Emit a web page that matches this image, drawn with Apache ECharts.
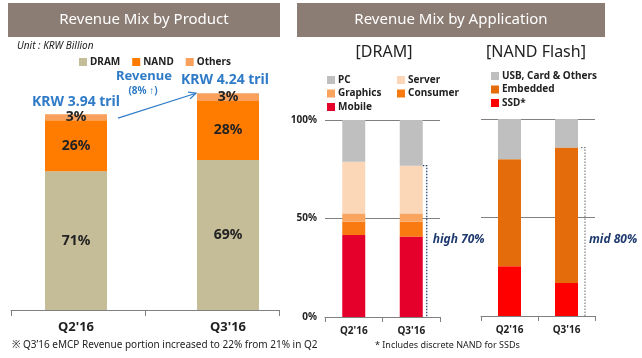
<!DOCTYPE html>
<html><head><meta charset="utf-8">
<script src="https://cdn.jsdelivr.net/npm/echarts@6/dist/echarts.min.js"></script>
<style>html,body{margin:0;padding:0;background:#fff}#c{width:642px;height:358px}</style>
</head><body><div id="c"></div>
<script>
// ---- data ----
const categories = ["Q2'16", "Q3'16"];
// Revenue Mix by Product (KRW tril)
const dramRevenue = [2.72, 2.94];
const nandRevenue = [1.00, 1.16];
const othersRevenue = [0.12, 0.15];
const dramShareLabels = ['71%', '69%'];
const nandShareLabels = ['26%', '28%'];
const othersShareLabels = ['3%', '3%'];
const revenueTotalLabels = ['KRW 3.94 tril', 'KRW 4.24 tril'];
const growthLabel = ['Revenue', '(8% \u2191)'];
// DRAM by application (%)
const mobile = [41.6, 40.8];
const consumer = [6.8, 7.6];
const graphicsApp = [4.2, 4.2];
const server = [26.2, 24.2];
const pc = [21.2, 23.2];
// NAND by application (%)
const ssd = [25.3, 16.8];
const embedded = [54.3, 68.7];
const usbCardOthers = [20.4, 14.5];
const percentTicks = [0, 50, 100];
const dramBracketLabel = 'high 70%';
const nandBracketLabel = 'mid 80%';

const FONT = 'Noto Sans';
const chart = echarts.init(document.getElementById('c'), null, {renderer: 'canvas'});

function lbl(arr) {
  return {show: true, position: 'inside', fontFamily: FONT, fontWeight: 'bold', fontSize: 14, color: '#222',
    formatter: p => arr[p.dataIndex]};
}
const pctAxisY = (idx, showLabels) => ({
  gridIndex: idx, type: 'value', min: 0, max: 100, interval: 50,
  axisLine: {show: false}, axisTick: {show: false},
  axisLabel: {show: showLabels, fontFamily: FONT, fontWeight: 'bold', fontSize: 10, color: '#222', margin: 8,
    formatter: v => percentTicks.includes(v) ? v + '%' : ''},
  splitLine: {show: true, lineStyle: {color: '#808080', width: 1}}
});
const catAxis = (idx, fs, margin) => ({
  gridIndex: idx, type: 'category', data: categories,
  axisLine: {show: true, lineStyle: {color: '#808080'}},
  axisTick: {show: true, length: 5, lineStyle: {color: '#808080'}},
  axisLabel: {fontFamily: FONT, fontWeight: 'bold', fontSize: fs, color: '#222', margin: margin}
});

const option = {
  animation: false,
  grid: [
    {left: -2, width: 306, top: 55, height: 255},
    {left: 11, width: 268, top: 55, height: 255},
    {left: 325, width: 115, top: 120, height: 197},
    {left: 481, width: 114, top: 119, height: 197}
  ],
  xAxis: [
    {gridIndex: 0, type: 'category', data: categories, axisLine: {show: false}, axisTick: {show: false},
     axisLabel: {fontFamily: FONT, fontWeight: 'bold', fontSize: 13, color: '#222', margin: 11}},
    {gridIndex: 1, type: 'category', data: categories, axisLine: {show: true, lineStyle: {color: '#808080'}},
     axisTick: {show: true, length: 6, lineStyle: {color: '#808080'}}, axisLabel: {show: false}},
    catAxis(2, 10, 9),
    catAxis(3, 10, 9)
  ],
  yAxis: [
    {gridIndex: 0, type: 'value', min: 0, max: 5, show: false},
    {gridIndex: 1, type: 'value', min: 0, max: 5, show: false},
    pctAxisY(2, true),
    pctAxisY(3, false)
  ],
  legend: [
    {data: ['DRAM', 'NAND', 'Others'], left: 74, top: 52, icon: 'rect', itemWidth: 8, itemHeight: 8, itemGap: 12,
     textStyle: {fontFamily: FONT, fontWeight: 'bold', fontSize: 10, color: '#222', padding: [0, 0, 0, -2]}},
    {data: ['PC', 'Graphics', 'Mobile'], orient: 'vertical', left: 322, top: 70, icon: 'rect', itemWidth: 8, itemHeight: 8, itemGap: 3.5,
     textStyle: {fontFamily: FONT, fontWeight: 'bold', fontSize: 10, color: '#222', padding: [0, 0, 0, -2]}},
    {data: ['Server', 'Consumer'], orient: 'vertical', left: 392, top: 70, icon: 'rect', itemWidth: 8, itemHeight: 8, itemGap: 3.5,
     textStyle: {fontFamily: FONT, fontWeight: 'bold', fontSize: 10, color: '#222', padding: [0, 0, 0, -2]}},
    {data: ['USB, Card & Others', 'Embedded', 'SSD*'], orient: 'vertical', left: 486, top: 66, icon: 'rect', itemWidth: 8, itemHeight: 8, itemGap: 3.5,
     textStyle: {fontFamily: FONT, fontWeight: 'bold', fontSize: 10, color: '#222', padding: [0, 0, 0, -2]}}
  ],
  series: [
    {name: 'DRAM', type: 'bar', xAxisIndex: 0, yAxisIndex: 0, stack: 'p', barWidth: 62, data: dramRevenue,
     itemStyle: {color: '#C5BD98'}, label: lbl(dramShareLabels)},
    {name: 'NAND', type: 'bar', xAxisIndex: 0, yAxisIndex: 0, stack: 'p', barWidth: 62, data: nandRevenue,
     itemStyle: {color: '#FF7C00'}, label: lbl(nandShareLabels)},
    {name: 'Others', type: 'bar', xAxisIndex: 0, yAxisIndex: 0, stack: 'p', barWidth: 62, data: othersRevenue,
     itemStyle: {color: '#F9A15C'}, label: lbl(othersShareLabels)},

    {name: 'Mobile', type: 'bar', xAxisIndex: 2, yAxisIndex: 2, stack: 'd', barWidth: 23, data: mobile, itemStyle: {color: '#E4002B'}},
    {name: 'Consumer', type: 'bar', xAxisIndex: 2, yAxisIndex: 2, stack: 'd', barWidth: 23, data: consumer, itemStyle: {color: '#F97A10'}},
    {name: 'Graphics', type: 'bar', xAxisIndex: 2, yAxisIndex: 2, stack: 'd', barWidth: 23, data: graphicsApp, itemStyle: {color: '#F9A55F'}},
    {name: 'Server', type: 'bar', xAxisIndex: 2, yAxisIndex: 2, stack: 'd', barWidth: 23, data: server, itemStyle: {color: '#FBD6B7'}},
    {name: 'PC', type: 'bar', xAxisIndex: 2, yAxisIndex: 2, stack: 'd', barWidth: 23, data: pc, itemStyle: {color: '#BFBFBF'}},

    {name: 'SSD*', type: 'bar', xAxisIndex: 3, yAxisIndex: 3, stack: 'n', barWidth: 23, data: ssd, itemStyle: {color: '#FF0000'}},
    {name: 'Embedded', type: 'bar', xAxisIndex: 3, yAxisIndex: 3, stack: 'n', barWidth: 23, data: embedded, itemStyle: {color: '#E46C0A'}},
    {name: 'USB, Card & Others', type: 'bar', xAxisIndex: 3, yAxisIndex: 3, stack: 'n', barWidth: 23, data: usbCardOthers, itemStyle: {color: '#BFBFBF'}}
  ]
};
chart.setOption(option);

// ---- annotations positioned through the axes ----
const px = (g, x, y) => chart.convertToPixel({xAxisIndex: g, yAxisIndex: g}, [x, y]);
const tot = i => dramRevenue[i] + nandRevenue[i] + othersRevenue[i];
const q2Top = px(0, 0, tot(0));
const q3Top = px(0, 1, tot(1));
const half = 31;
const a0 = [q2Top[0] + half + 11, q2Top[1] + 4];
const a1 = [q3Top[0] - half - 1, q3Top[1]];
const ang = Math.atan2(a1[1] - a0[1], a1[0] - a0[0]);
const ah = 8, aw = 0.45;
const head = [
  [a1[0] - ah * Math.cos(ang - aw), a1[1] - ah * Math.sin(ang - aw)],
  a1,
  [a1[0] - ah * Math.cos(ang + aw), a1[1] - ah * Math.sin(ang + aw)]
];
const blue = '#2F7BC8';

const dTop = px(2, 1, mobile[1] + consumer[1] + graphicsApp[1] + server[1]);
const dBot = px(2, 1, 0);
const dx = dTop[0] + 11.5 + 4;
const nTop = px(3, 1, ssd[1] + embedded[1]);
const nBot = px(3, 1, 0);
const nx = nTop[0] + 11.5 + 7;

const titleBar = (x, w, text) => ({
  type: 'group', left: x, top: 3, children: [
    {type: 'rect', shape: {x: 0, y: 0, width: w, height: 34}, style: {fill: '#8C7D74'}},
    {type: 'text', x: w / 2, y: 17, style: {text: text, fill: '#fff', font: '15px "' + FONT + '"', textAlign: 'center', textVerticalAlign: 'middle'}}
  ]
});

chart.setOption({
  graphic: [
    titleBar(8, 272, 'Revenue Mix by Product'),
    titleBar(297, 308, 'Revenue Mix by Application'),
    {type: 'text', left: 17, top: 41, style: {text: 'Unit : KRW Billion', fill: '#222', font: 'italic 10px "' + FONT + '"'}},
    {type: 'text', x: 384, y: 52, style: {text: '[DRAM]', fill: '#222', font: '16px "' + FONT + '"', textAlign: 'center', textVerticalAlign: 'middle'}},
    {type: 'text', x: 536, y: 52, style: {text: '[NAND Flash]', fill: '#222', font: '16px "' + FONT + '"', textAlign: 'center', textVerticalAlign: 'middle'}},
    {type: 'text', x: q2Top[0], y: q2Top[1] - 12, style: {text: revenueTotalLabels[0], fill: blue, font: 'bold 14px "' + FONT + '"', textAlign: 'center', textVerticalAlign: 'middle'}},
    {type: 'text', x: q3Top[0] - 3, y: q3Top[1] - 13, style: {text: revenueTotalLabels[1], fill: blue, font: 'bold 14px "' + FONT + '"', textAlign: 'center', textVerticalAlign: 'middle'}},
    {type: 'text', x: 144, y: 76, style: {text: growthLabel[0], fill: blue, font: 'bold 13px "' + FONT + '"', textAlign: 'center', textVerticalAlign: 'middle'}},
    {type: 'text', x: 143, y: 91, style: {text: growthLabel[1], fill: blue, font: 'bold 10px "' + FONT + '"', textAlign: 'center', textVerticalAlign: 'middle'}},
    {type: 'line', shape: {x1: a0[0], y1: a0[1], x2: a1[0], y2: a1[1]}, style: {stroke: blue, lineWidth: 1.2}},
    {type: 'polyline', shape: {points: head}, style: {stroke: blue, lineWidth: 1.2, fill: null}},
    {type: 'polyline', shape: {points: [[dx - 4, dTop[1]], [dx, dTop[1]], [dx, dBot[1]]]}, style: {stroke: '#1F3A6E', lineWidth: 1.2, lineDash: [1.5, 1.5], fill: null}},
    {type: 'text', x: dx + 6, y: 240, style: {text: dramBracketLabel, fill: '#1F3A6E', font: 'italic bold 12px "' + FONT + '"', textAlign: 'left', textVerticalAlign: 'middle'}},
    {type: 'polyline', shape: {points: [[nx - 4, nTop[1]], [nx, nTop[1]], [nx, nBot[1]]]}, style: {stroke: '#7F7F7F', lineWidth: 1.2, lineDash: [1.5, 1.5], fill: null}},
    {type: 'text', x: nx + 4, y: 240, style: {text: nandBracketLabel, fill: '#1F3A6E', font: 'italic bold 12px "' + FONT + '"', textAlign: 'left', textVerticalAlign: 'middle'}},
    {type: 'text', left: 12, top: 340, style: {text: '\u203B Q3\u201916 eMCP Revenue portion increased to 22% from 21% in Q2', fill: '#222', font: '10px "' + FONT + '"'}},
    {type: 'text', left: 375, top: 341, style: {text: '* Includes discrete NAND for SSDs', fill: '#222', font: '9px "' + FONT + '"'}}
  ]
});
</script></body></html>
